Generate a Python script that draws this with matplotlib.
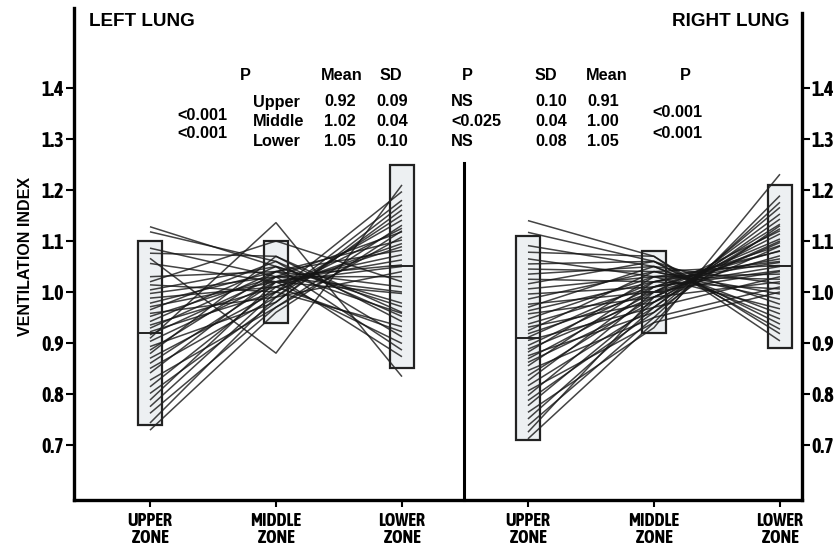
import matplotlib
matplotlib.use("Agg")
import matplotlib.pyplot as plt
from matplotlib import font_manager
from matplotlib.patches import Rectangle

W, H = 839, 546

# ------------------------------------------------------------------
# Data
# ------------------------------------------------------------------
zone_labels = ["UPPER\nZONE", "MIDDLE\nZONE", "LOWER\nZONE"]
row_names = ["Upper", "Middle", "Lower"]

left_mean = [0.92, 1.02, 1.05]
left_sd = [0.09, 0.04, 0.10]
right_mean = [0.91, 1.00, 1.05]
right_sd = [0.10, 0.04, 0.08]

left_p = ["<0.001", "<0.001"]
between_p = ["NS", "<0.025", "NS"]
right_p = ["<0.001", "<0.001"]

yticks = [0.7, 0.8, 0.9, 1.0, 1.1, 1.2, 1.3, 1.4]

# individual subjects, left lung
left_upper = [1.128, 1.118, 1.086, 1.076, 1.066, 1.056, 1.030, 1.020, 1.014, 1.004,
              0.997, 0.988, 0.978, 0.971, 0.965, 0.958, 0.952, 0.942, 0.935, 0.929,
              0.922, 0.916, 0.909, 0.903, 0.893, 0.886, 0.879, 0.870, 0.860, 0.850,
              0.841, 0.827, 0.814, 0.801, 0.788, 0.775, 0.762, 0.743, 0.729]
left_middle = [1.05, 1.06, 1.03, 1.07, 0.88, 1.02, 1.04, 1.10, 1.00, 1.05,
               1.03, 1.01, 1.04, 1.02, 1.06, 0.99, 1.03, 1.05, 1.01, 1.04,
               1.00, 1.03, 1.136, 1.02, 0.98, 1.04, 1.07, 1.00, 1.02, 0.99,
               1.03, 0.97, 1.01, 0.98, 1.02, 1.00, 0.97, 0.99, 0.96]
left_lower = [0.886, 0.912, 0.873, 0.942, 1.210, 0.899, 0.958, 1.020, 0.932, 0.978,
              1.053, 0.922, 1.082, 0.997, 0.952, 1.040, 1.118, 0.971, 1.095, 1.010,
              1.141, 1.030, 0.834, 1.063, 1.161, 1.102, 0.960, 1.125, 1.073, 1.180,
              1.000, 1.131, 1.089, 1.171, 1.050, 1.197, 1.108, 1.151, 1.120]

# individual subjects, right lung
right_upper = [1.140, 1.117, 1.091, 1.078, 1.065, 1.055, 1.045, 1.035, 1.025, 1.016,
               1.006, 0.996, 0.986, 0.976, 0.970, 0.963, 0.957, 0.947, 0.937, 0.931,
               0.924, 0.918, 0.911, 0.905, 0.895, 0.888, 0.882, 0.875, 0.869, 0.862,
               0.855, 0.846, 0.836, 0.826, 0.816, 0.806, 0.797, 0.787, 0.777, 0.764,
               0.751, 0.738, 0.725, 0.712]
right_middle = [1.07, 1.06, 1.05, 1.07, 1.03, 1.06, 1.04, 1.05, 1.02, 1.06,
                1.03, 1.01, 1.04, 1.00, 1.05, 1.02, 0.99, 1.03, 1.01, 0.98,
                1.04, 1.00, 1.02, 0.97, 1.01, 0.99, 1.03, 0.96, 1.00, 0.98,
                1.02, 0.95, 0.99, 1.01, 0.97, 0.94, 1.00, 0.96, 0.98, 0.93,
                0.97, 0.95, 0.99, 0.94]
right_lower = [0.904, 0.927, 0.947, 0.918, 0.967, 0.937, 0.986, 0.957, 1.006, 0.976,
               1.025, 1.042, 0.996, 1.071, 1.016, 1.058, 1.097, 1.035, 1.081, 1.124,
               1.052, 1.104, 1.065, 1.143, 1.091, 1.114, 1.060, 1.166, 1.120, 1.133,
               1.080, 1.176, 1.100, 1.050, 1.153, 1.189, 1.040, 1.130, 1.090, 1.231,
               1.030, 1.010, 1.020, 1.000]


# ------------------------------------------------------------------
# Fonts: condensed bold face for axis labels, Liberation Sans for text
# ------------------------------------------------------------------
def pick_condensed():
    fonts = font_manager.fontManager.ttflist
    bold = [f for f in fonts if str(f.weight) in ("700", "bold")]
    for f in bold:
        if "Narrow" in f.name or "Condensed" in f.name:
            return f.name, "normal", True
    for f in bold:
        if f.stretch in ("condensed", "semi-condensed", "extra-condensed"):
            return f.name, f.stretch, True
    return "Liberation Sans", "normal", False


cond_name, cond_stretch, condensed = pick_condensed()
plt.rcParams["font.family"] = [cond_name, "DejaVu Sans"]
plt.rcParams["font.stretch"] = cond_stretch
plt.rcParams["font.weight"] = "bold"
k = 1.0 if condensed else 0.86
TEXT_FONT = ["Liberation Sans", "DejaVu Sans"]

# ------------------------------------------------------------------
# Figure
# ------------------------------------------------------------------
fig = plt.figure(figsize=(W / 100, H / 100), dpi=100)
ax = fig.add_axes([74 / W, 1 - 500 / H, (802 - 74) / W, (500 - 8) / H])
ax.set_xlim(-0.603, 5.175)
ax.set_ylim(0.592, 1.557)

line_kw = dict(color="#151515", lw=1.1, alpha=0.8, zorder=2, solid_capstyle="butt")
for u, m, l in zip(left_upper, left_middle, left_lower):
    ax.plot([0, 1, 2], [u, m, l], **line_kw)
for u, m, l in zip(right_upper, right_middle, right_lower):
    ax.plot([3, 4, 5], [u, m, l], **line_kw)

# boxes: mean +/- 2 SD
hw = 0.095
for offset, means, sds in ((0, left_mean, left_sd), (3, right_mean, right_sd)):
    for i, (mu, sd) in enumerate(zip(means, sds)):
        x = offset + i
        ax.add_patch(Rectangle((x - hw, mu - 2 * sd), 2 * hw, 4 * sd,
                               facecolor="#edf0f2", edgecolor="none", zorder=1))
        ax.add_patch(Rectangle((x - hw, mu - 2 * sd), 2 * hw, 4 * sd,
                               fill=False, edgecolor="#222222", lw=1.6, zorder=3))
        ax.plot([x - hw, x + hw], [mu, mu], color="#222222", lw=1.4, zorder=3)

# divider between lungs
ax.plot([2.492, 2.492], [0.592, 1.253], color="black", lw=2.2, zorder=4,
        clip_on=False)

for side in ("left", "bottom", "right"):
    ax.spines[side].set_linewidth(2.4)
ax.spines["top"].set_visible(False)
ax.spines["right"].set_bounds(0.592, 1.547)

ax.set_yticks(yticks)
ax.set_yticklabels([f"{v:.1f}" for v in yticks])
ax.tick_params(axis="y", direction="out", length=6, width=1.5, pad=1,
               left=True, right=True, labelleft=True, labelright=True,
               labelsize=14.5 * k)
ax.set_xticks(range(6))
ax.set_xticklabels(zone_labels * 2, linespacing=0.92, va="top")
ax.tick_params(axis="x", direction="out", length=5, width=1.5, pad=4,
               labelsize=13 * k)


def put(x, y, s, size=11.7, ha="center", **kw):
    fig.text(x / W, 1 - y / H, s, fontsize=size, ha=ha, va="center",
             fontweight="bold", family=TEXT_FONT, fontstretch="normal", **kw)


put(26, 256, "VENTILATION INDEX", size=11.5, rotation=90)
put(89, 22, "LEFT LUNG", size=13.6, ha="left")
put(789, 22, "RIGHT LUNG", size=13.6, ha="right")

# statistics table
for x, s in ((245, "P"), (342, "Mean"), (391, "SD"), (467, "P"),
             (546, "SD"), (607, "Mean"), (685, "P")):
    put(x, 76, s)

row_y = [102, 122, 142]
for y, name, lm, ls, bp, rs, rm in zip(row_y, row_names, left_mean, left_sd,
                                       between_p, right_sd, right_mean):
    put(253, y, name, ha="left")
    put(340, y, f"{lm:.2f}")
    put(392, y, f"{ls:.2f}")
    put(451, y, bp, ha="left")
    put(551, y, f"{rs:.2f}")
    put(603, y, f"{rm:.2f}")

for y, s in zip([115, 133], left_p):
    put(202, y, s)
for y, s in zip([113, 133], right_p):
    put(677, y, s)

fig.savefig("out.png", dpi=100)
